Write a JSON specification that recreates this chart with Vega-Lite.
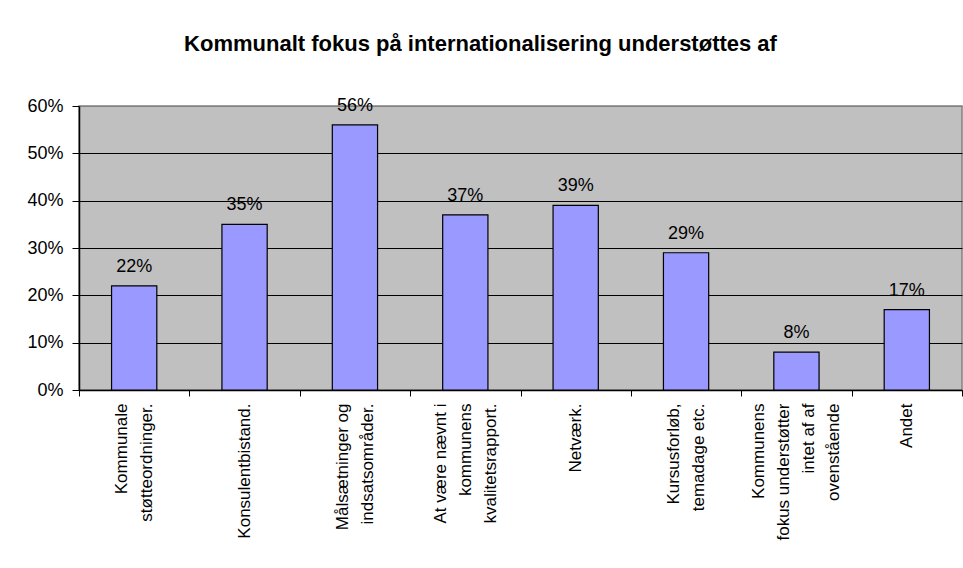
{
  "$schema": "https://vega.github.io/schema/vega-lite/v6.json",
  "width": 883,
  "height": 284,
  "autosize": {"type": "none"},
  "padding": {"left": 79, "top": 106, "right": 1, "bottom": 178},
  "background": "white",
  "title": {
    "text": "Kommunalt fokus på internationalisering understøttes af",
    "font": "Liberation Sans",
    "fontSize": 22,
    "fontWeight": "bold",
    "color": "black",
    "anchor": "middle",
    "frame": "group",
    "dx": -40,
    "offset": 41
  },
  "config": {
    "view": {"fill": "#C0C0C0", "stroke": "#808080", "strokeWidth": 1.5},
    "font": "Liberation Sans"
  },
  "data": {
    "values": [
      {"label": "Kommunale|støtteordninger.", "value": 0.22, "text": "22%"},
      {"label": "Konsulentbistand.", "value": 0.35, "text": "35%"},
      {"label": "Målsætninger og|indsatsområder.", "value": 0.56, "text": "56%"},
      {"label": "At være nævnt i|kommunens|kvalitetsrapport.", "value": 0.37, "text": "37%"},
      {"label": "Netværk.", "value": 0.39, "text": "39%"},
      {"label": "Kursusforløb,|temadage etc.", "value": 0.29, "text": "29%"},
      {"label": "Kommunens|fokus understøtter|intet af af|ovenstående", "value": 0.08, "text": "8%"},
      {"label": "Andet", "value": 0.17, "text": "17%"}
    ]
  },
  "encoding": {
    "x": {
      "field": "label",
      "type": "nominal",
      "sort": null,
      "scale": {"paddingInner": 0, "paddingOuter": 0},
      "axis": {
        "title": null,
        "labelAngle": -90,
        "labelExpr": "split(datum.label, '|')",
        "labelFontSize": 17,
        "labelColor": "black",
        "labelLineHeight": 25,
        "labelPadding": 7,
        "labelOffset": {
          "condition": [
            {"test": "length(split(datum.value, '|')) === 2", "value": -12.5},
            {"test": "length(split(datum.value, '|')) === 3", "value": -25},
            {"test": "length(split(datum.value, '|')) === 4", "value": -37.5}
          ],
          "value": 0
        },
        "labelLimit": 300,
        "tickBand": "extent",
        "tickSize": 6,
        "tickColor": "black",
        "domainColor": "black",
        "domainWidth": 1.5,
        "grid": false
      }
    },
    "y": {
      "field": "value",
      "type": "quantitative",
      "scale": {"domain": [0, 0.6]},
      "axis": {
        "title": null,
        "format": ".0%",
        "values": [0, 0.1, 0.2, 0.3, 0.4, 0.5, 0.6],
        "labelFontSize": 18,
        "labelColor": "black",
        "labelPadding": 9,
        "tickSize": 7,
        "tickColor": "black",
        "domainColor": "black",
        "domainWidth": 1.5,
        "grid": true,
        "gridColor": {"condition": {"test": "datum.value > 0.59", "value": "#808080"}, "value": "black"},
        "gridWidth": 1
      }
    }
  },
  "layer": [
    {
      "mark": {"type": "bar", "width": {"band": 0.41}, "fill": "#9999FF", "stroke": "black", "strokeWidth": 1.2}
    },
    {
      "mark": {"type": "text", "baseline": "alphabetic", "dy": -14, "fontSize": 18, "color": "black"},
      "encoding": {"text": {"field": "text"}}
    }
  ]
}
